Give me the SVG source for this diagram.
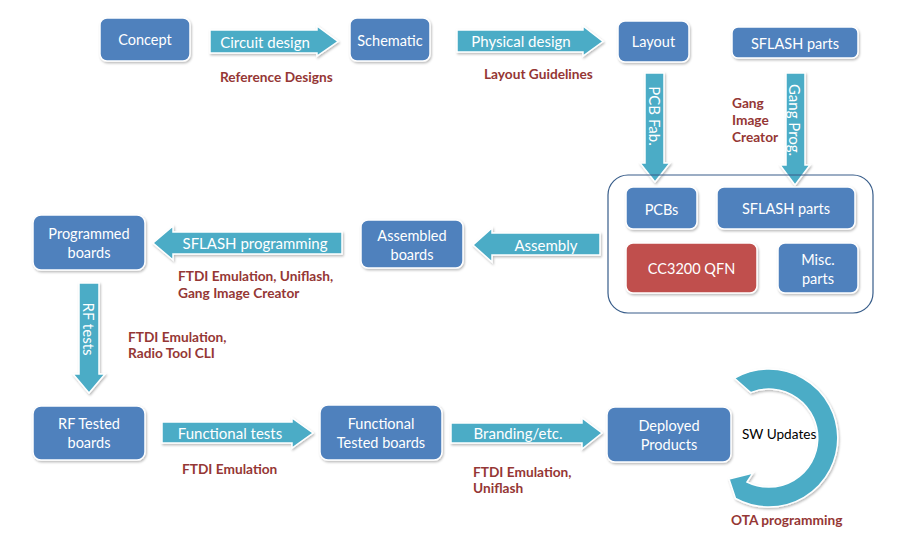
<svg xmlns="http://www.w3.org/2000/svg" width="900" height="543" viewBox="0 0 900 543">
<defs>
<filter id="sh" x="-20%" y="-20%" width="140%" height="140%"><feDropShadow dx="1" dy="1.5" stdDeviation="1.3" flood-color="#000" flood-opacity="0.28"/></filter>
</defs>
<style>
.box{fill:#4F81BD;stroke:#fff;stroke-width:1.5;filter:url(#sh)}
.red{fill:#C0504D;stroke:#fff;stroke-width:1.5;filter:url(#sh)}
.arr{fill:#4BACC6;stroke:#fff;stroke-width:1.5;filter:url(#sh)}
.bt{font-family:Lato,"Liberation Sans",sans-serif;font-size:14.5px;fill:#fff;text-anchor:middle;dominant-baseline:central}
.at{font-family:Lato,"Liberation Sans",sans-serif;font-size:15px;fill:#fff;text-anchor:middle;dominant-baseline:central}
.lb{font-family:Lato,"Liberation Sans",sans-serif;font-size:13.7px;font-weight:bold;fill:#953735}
.cont{fill:none;stroke:#385D8A;stroke-width:1.2}
</style>
<rect width="900" height="543" fill="#fff"/>

<g id="connectors">
  <g id="a-circuit"><polygon class="arr" points="210,30 317,30 317,26 338,41.5 317,56 317,53 210,53"/><text class="at" x="265" y="41.5">Circuit design</text></g>
  <g id="a-physical"><polygon class="arr" points="457,30 583,30 583,26 603,41.5 583,56 583,52 457,52"/><text class="at" x="521" y="41">Physical design</text></g>
  <g id="a-pcbfab"><polygon class="arr" points="645,73 664,73 664,163 670,163 655,182 640,163 645,163"/><text class="at" transform="translate(655,116) rotate(90)">PCB Fab.</text></g>
  <g id="a-gangprog"><polygon class="arr" points="786,73 805,73 805,165 810,165 795,185 780,165 786,165"/><text class="at" transform="translate(795,120) rotate(90)">Gang Prog.</text></g>
  <g id="a-assembly"><polygon class="arr" points="600,233 600,255 492,255 492,262 473,245 492,228 492,233"/><text class="at" x="546" y="244.5">Assembly</text></g>
  <g id="a-sflashprog"><polygon class="arr" points="342,232 342,254 173,254 173,260 153,243 173,226 173,232"/><text class="at" x="255" y="243">SFLASH programming</text></g>
  <g id="a-rftests"><polygon class="arr" points="79,283 99,283 99,374 105,374 89,393 73,374 79,374"/><text class="at" transform="translate(89,329) rotate(90)">RF tests</text></g>
  <g id="a-functional"><polygon class="arr" points="162,422 292,422 292,418 313,433 292,448 292,443 162,443"/><text class="at" x="230" y="433">Functional tests</text></g>
  <g id="a-branding"><polygon class="arr" points="451,423 582,423 582,418 602,433 582,449 582,443 451,443"/><text class="at" x="518" y="433">Branding/etc.</text></g>
  <g id="a-swupdates"><path class="arr" d="M734.5,378.2 A69,69 0 1 1 735.5,498.5 L729,479 L753,473 L747,482 A49,49 0 1 0 750.6,392.6 Z"/><text x="742" y="434" style="font-family:Lato,'Liberation Sans',sans-serif;font-size:13.6px;fill:#000;dominant-baseline:central">SW Updates</text></g>
</g>

<g id="container"><rect class="cont" x="608" y="175" width="265" height="138" rx="20"/></g>

<g id="n-concept"><rect class="box" x="100" y="18" width="90" height="43" rx="7"/><text class="bt" x="145" y="39.5">Concept</text></g>
<g id="n-schematic"><rect class="box" x="350" y="18" width="80" height="43" rx="7"/><text class="bt" x="390" y="40.5">Schematic</text></g>
<g id="n-layout"><rect class="box" x="618" y="21" width="71" height="41" rx="7"/><text class="bt" x="653.5" y="41">Layout</text></g>
<g id="n-sflash-top"><rect class="box" x="732" y="27" width="126" height="31" rx="6"/><text class="bt" x="795" y="43">SFLASH  parts</text></g>
<g id="n-pcbs"><rect class="box" x="626" y="187" width="71" height="42" rx="7"/><text class="bt" x="661.5" y="209">PCBs</text></g>
<g id="n-sflash"><rect class="box" x="717" y="187" width="138" height="42" rx="7"/><text class="bt" x="786" y="208.5">SFLASH  parts</text></g>
<g id="n-cc3200"><rect class="red" x="626" y="243" width="131" height="50" rx="7"/><text class="bt" x="691.5" y="268">CC3200 QFN</text></g>
<g id="n-misc"><rect class="box" x="778" y="243" width="80" height="50" rx="7"/><text class="bt" x="818" y="259">Misc.</text><text class="bt" x="818" y="278">parts</text></g>
<g id="n-assembled"><rect class="box" x="361" y="220" width="102" height="48" rx="7"/><text class="bt" x="412" y="235">Assembled</text><text class="bt" x="412" y="254">boards</text></g>
<g id="n-programmed"><rect class="box" x="33" y="215" width="112" height="55" rx="8"/><text class="bt" x="89" y="233">Programmed</text><text class="bt" x="89" y="252">boards</text></g>
<g id="n-rftested"><rect class="box" x="33" y="406" width="112" height="54" rx="8"/><text class="bt" x="89" y="423">RF Tested</text><text class="bt" x="89" y="442">boards</text></g>
<g id="n-functested"><rect class="box" x="320" y="405" width="122" height="55" rx="8"/><text class="bt" x="381" y="423">Functional</text><text class="bt" x="381" y="442">Tested boards</text></g>
<g id="n-deployed"><rect class="box" x="607" y="407" width="124" height="55" rx="8"/><text class="bt" x="669" y="425">Deployed</text><text class="bt" x="669" y="444">Products</text></g>

<g id="labels">
  <text class="lb" x="220" y="81.5">Reference Designs</text>
  <text class="lb" x="484" y="79">Layout Guidelines</text>
  <text class="lb" x="732" y="108">Gang</text>
  <text class="lb" x="732" y="125">Image</text>
  <text class="lb" x="732" y="142">Creator</text>
  <text class="lb" x="178" y="281">FTDI Emulation, Uniflash,</text>
  <text class="lb" x="178" y="298">Gang Image Creator</text>
  <text class="lb" x="128" y="342">FTDI Emulation,</text>
  <text class="lb" x="128" y="358">Radio Tool CLI</text>
  <text class="lb" x="182" y="474">FTDI Emulation</text>
  <text class="lb" x="473" y="477">FTDI Emulation,</text>
  <text class="lb" x="473" y="493">Uniflash</text>
  <text class="lb" x="731" y="525">OTA programming</text>
</g>
</svg>
